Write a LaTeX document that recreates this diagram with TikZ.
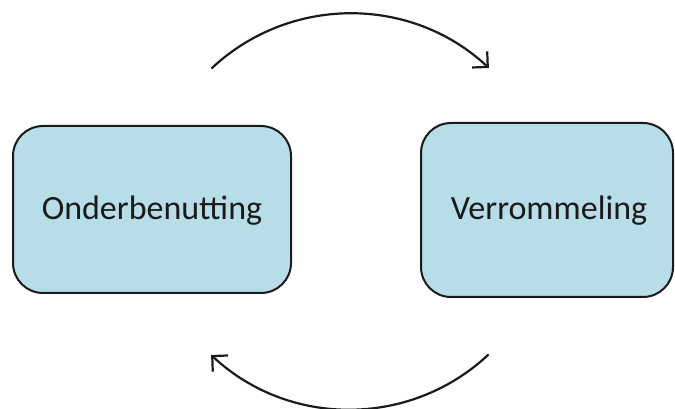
\documentclass[tikz,border=0pt]{standalone}
\usepackage{fontspec}
\setmainfont{Carlito}
\usetikzlibrary{arrows.meta}
\definecolor{boxfill}{HTML}{B7DEE8}
\definecolor{ink}{HTML}{1A1A1A}
\tikzset{
  statebox/.style={draw=ink, line width=2pt, fill=boxfill, rounded corners=30pt},
  label/.style={font=\fontsize{34}{40}\selectfont, text=ink},
  cyclearrow/.style={draw=ink, line width=2.2pt, line cap=round,
    -{Straight Barb[length=11pt, width=22pt, line width=2.2pt]}}
}
\begin{document}
\begin{tikzpicture}[x=1pt, y=1pt]
  \useasboundingbox (0,0) rectangle (675,409);
  % the two states
  \draw[statebox] (13,116) rectangle (291,283);
  \node[label] (onder) at (152,198) {Onderbenutting};
  \draw[statebox] (421,112) rectangle (673,286);
  \node[label] (verrom) at (549,198) {Verrommeling};
  % arcs running between them
  \coordinate (topstart) at (212,341);
  \coordinate (botstart) at (488,54);
  \draw[cyclearrow] (topstart) arc[start angle=133, end angle=47, radius=203];
  \draw[cyclearrow] (botstart) arc[start angle=-47, end angle=-133, radius=203];
\end{tikzpicture}
\end{document}
